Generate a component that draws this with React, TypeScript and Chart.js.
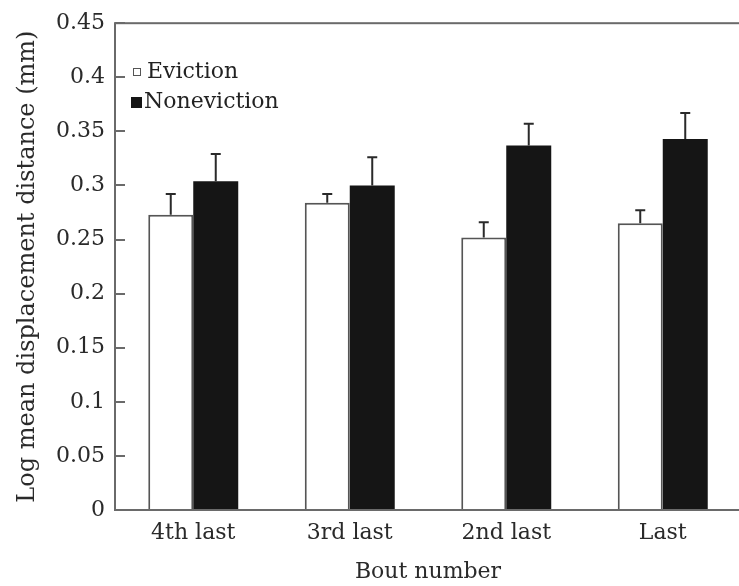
import React, { useEffect, useRef } from 'react';
import { Chart, registerables } from 'chart.js';

Chart.register(...registerables);

const categories = ['4th last', '3rd last', '2nd last', 'Last'];
const seriesNames = ['Eviction', 'Noneviction'];
const evictionMeans = [0.273, 0.284, 0.252, 0.265];
const evictionUpper = [0.292, 0.292, 0.266, 0.277];
const nonevictionMeans = [0.304, 0.3, 0.337, 0.343];
const nonevictionUpper = [0.329, 0.326, 0.357, 0.367];
const yTickValues = [0, 0.05, 0.1, 0.15, 0.2, 0.25, 0.3, 0.35, 0.4, 0.45];
const yTickLabels = ['0', '0.05', '0.1', '0.15', '0.2', '0.25', '0.3', '0.35', '0.4', '0.45'];
const xTitle = 'Bout number';
const yTitle = 'Log mean displacement distance (mm)';

const FONT = "'DejaVu Serif', serif";

const customPlugin = {
  id: 'customFrame',
  afterDatasetsDraw(chart: any) {
    const { ctx, scales } = chart;
    const y = scales.y;
    const uppers = [evictionUpper, nonevictionUpper];
    ctx.save();
    ctx.strokeStyle = '#2a2a2a';
    ctx.lineWidth = 2;
    chart.data.datasets.forEach((_ds: any, i: number) => {
      const meta = chart.getDatasetMeta(i);
      meta.data.forEach((bar: any, j: number) => {
        const yTop = y.getPixelForValue(uppers[i][j]);
        ctx.beginPath();
        ctx.moveTo(bar.x, bar.y);
        ctx.lineTo(bar.x, yTop);
        ctx.moveTo(bar.x - 5, yTop);
        ctx.lineTo(bar.x + 5, yTop);
        ctx.stroke();
      });
    });
    ctx.restore();
  },
  afterDraw(chart: any) {
    const { ctx, chartArea, scales } = chart;
    const { left, right, top, bottom } = chartArea;
    const y = scales.y;
    ctx.save();
    // frame
    ctx.strokeStyle = '#6a6a6a';
    ctx.lineWidth = 2;
    ctx.strokeRect(left, top, right - left, bottom - top);
    // inward ticks
    ctx.beginPath();
    yTickValues.forEach((v) => {
      const py = Math.round(y.getPixelForValue(v));
      ctx.moveTo(left, py);
      ctx.lineTo(left + 10, py);
    });
    ctx.stroke();
    // legend
    ctx.font = `22px ${FONT}`;
    ctx.textBaseline = 'middle';
    ctx.strokeStyle = '#555';
    ctx.lineWidth = 1;
    ctx.fillStyle = '#fff';
    ctx.fillRect(133, 68, 7, 7);
    ctx.strokeRect(133.5, 68.5, 7, 7);
    ctx.fillStyle = '#151515';
    ctx.fillRect(131, 97, 11, 11);
    ctx.fillStyle = '#222';
    ctx.fillText(seriesNames[0], 147, 72);
    ctx.fillText(seriesNames[1], 144, 102);
    ctx.restore();
  },
};

export default function App() {
  const ref = useRef<HTMLCanvasElement | null>(null);
  useEffect(() => {
    if (!ref.current) return;
    const chart = new Chart(ref.current, {
      type: 'bar',
      data: {
        labels: categories,
        datasets: [
          {
            label: seriesNames[0],
            data: evictionMeans,
            backgroundColor: '#ffffff',
            borderColor: '#555555',
            borderWidth: 2,
            borderSkipped: 'bottom',
            categoryPercentage: 0.575,
            barPercentage: 1,
          },
          {
            label: seriesNames[1],
            data: nonevictionMeans,
            backgroundColor: '#151515',
            borderColor: '#151515',
            borderWidth: 0,
            categoryPercentage: 0.575,
            barPercentage: 1,
          },
        ],
      },
      options: {
        responsive: false,
        animation: false,
        devicePixelRatio: 1,
        layout: { padding: { top: 21, right: 4, left: 0, bottom: 0 } },
        plugins: { legend: { display: false }, tooltip: { enabled: false } },
        scales: {
          x: {
            grid: { display: false, drawTicks: false },
            border: { display: false },
            ticks: { color: '#2a2a2a', font: { family: FONT, size: 22 }, padding: 10 },
            title: {
              display: true,
              text: xTitle,
              color: '#2a2a2a',
              font: { family: FONT, size: 22 },
              padding: { top: 0, bottom: 1 },
            },
            afterFit: (s: any) => {
              s.height = 76;
            },
          },
          y: {
            min: 0,
            max: 0.45,
            afterBuildTicks: (s: any) => {
              s.ticks = yTickValues.map((v) => ({ value: v }));
            },
            grid: { display: false, drawTicks: false },
            border: { display: false },
            ticks: {
              color: '#2a2a2a',
              font: { family: FONT, size: 22 },
              padding: 10,
              callback: (_v: any, i: number) => yTickLabels[i],
            },
            title: {
              display: true,
              text: yTitle,
              color: '#2a2a2a',
              font: { family: FONT, size: 24 },
              padding: { top: 13, bottom: 0 },
            },
            afterFit: (s: any) => {
              s.width = 115;
            },
          },
        },
      },
      plugins: [customPlugin],
    });
    return () => chart.destroy();
  }, []);
  return (
    <div style={{ position: 'fixed', left: 0, top: 0, width: 739, height: 586, overflow: 'hidden', background: '#fff' }}>
      <canvas ref={ref} width={745} height={586} style={{ display: 'block' }} />
    </div>
  );
}
